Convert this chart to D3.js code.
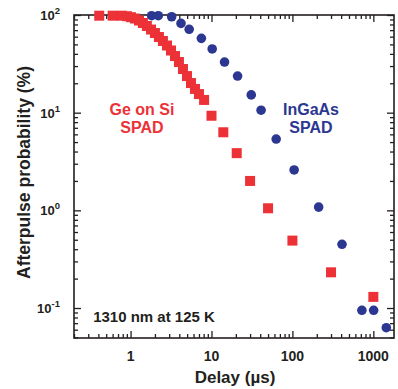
<!DOCTYPE html>
<html>
<head>
<meta charset="utf-8">
<script src="https://cdn.jsdelivr.net/npm/d3@7"></script>
<style>
  html, body { margin: 0; padding: 0; background: #fff; }
  svg { display: block; font-family: "Liberation Sans", Arial, Helvetica, sans-serif; }
</style>
</head>
<body>
<svg id="chart" width="398" height="389"></svg>
<script>
// ---- data ----
const geDelay = [0.41, 0.60, 0.78, 0.90, 1.01, 1.13, 1.27, 1.42, 1.59, 1.79, 2.00, 2.24, 2.51, 2.82, 3.16, 3.54, 3.96, 4.44, 4.98, 5.58, 6.25, 7.0, 8.1, 10, 14, 20.5, 30, 50, 100, 300, 1000];
const geProb  = [98.4, 98.4, 98.4, 97.2, 95.0, 92.1, 87.8, 82.8, 77.2, 71.0, 65.4, 59.5, 54.2, 48.7, 43.3, 38.0, 33.0, 28.0, 23.7, 20.1, 17.5, 15.5, 13.5, 9.3, 6.3, 3.85, 2.0, 1.05, 0.49, 0.232, 0.13];
const ingaasDelay = [1.82, 2.2, 3.22, 4.2, 5.3, 7.5, 10.2, 14.5, 21, 31, 41, 63, 105, 211, 410, 722, 1009, 1446];
const ingaasProb  = [98.4, 98.4, 96, 82, 71.4, 57.7, 44.9, 33, 23.7, 15.2, 10.6, 5.37, 2.59, 1.08, 0.449, 0.0948, 0.0948, 0.0629];
const xTicks = [1, 10, 100, 1000];
const xTickLabels = ["1", "10", "100", "1000"];
const yTicks = [0.1, 1, 10, 100];
const yTickExponents = ["-1", "0", "1", "2"];

// ---- layout ----
const pL = 74, pR = 394, pT = 15, pB = 338;
const RED = "#ec3237", BLUE = "#2b3791", INK = "#231f20";

const svg = d3.select("#chart");
const x = d3.scaleLog().domain([0.2, 1800]).range([pL, pR]);
const y = d3.scaleLog().domain([Math.pow(10, -1.307), 100]).range([pB, pT]);

function minorTicks(scale) {
  const [a, b] = scale.domain();
  const out = [];
  for (let e = Math.floor(Math.log10(a)); e <= Math.ceil(Math.log10(b)); e++) {
    for (let m = 2; m <= 9; m++) {
      const v = m * Math.pow(10, e);
      if (v >= a && v <= b) out.push(v);
    }
  }
  return out;
}

const axes = svg.append("g").attr("stroke-width", 1.3);
function drawAxis(gen, tx, ty, values, size) {
  const g = axes.append("g").attr("transform", `translate(${tx},${ty})`)
    .call(gen.tickValues(values).tickSize(size).tickSizeOuter(0).tickFormat(""));
  g.select(".domain").remove();
  g.selectAll("line").attr("stroke", INK).attr("stroke-width", 1.3);
}
// bottom / top
drawAxis(d3.axisBottom(x), 0, pB, xTicks, -7);
drawAxis(d3.axisBottom(x), 0, pB, minorTicks(x), -4);
drawAxis(d3.axisTop(x), 0, pT, xTicks, -7);
drawAxis(d3.axisTop(x), 0, pT, minorTicks(x), -4);
// left / right
drawAxis(d3.axisLeft(y), pL, 0, yTicks, -7);
drawAxis(d3.axisLeft(y), pL, 0, minorTicks(y), -4);
drawAxis(d3.axisRight(y), pR, 0, yTicks, -7);
drawAxis(d3.axisRight(y), pR, 0, minorTicks(y), -4);

// frame
svg.append("rect").attr("x", pL).attr("y", pT)
  .attr("width", pR - pL).attr("height", pB - pT)
  .attr("fill", "none").attr("stroke", INK).attr("stroke-width", 1.6);

// x tick labels
svg.append("g").selectAll("text").data(xTicks).join("text")
  .attr("x", d => x(d)).attr("y", 361)
  .attr("text-anchor", "middle").attr("font-size", 14).attr("font-weight", "bold")
  .attr("fill", INK)
  .text((d, i) => xTickLabels[i]);

// y tick labels (10^n)
const yl = svg.append("g").selectAll("text").data(yTicks).join("text")
  .attr("x", 60).attr("y", d => y(d) + 5)
  .attr("text-anchor", "end").attr("font-size", 13).attr("font-weight", "bold")
  .attr("fill", INK);
yl.append("tspan").text("10");
yl.append("tspan").attr("dy", -6).attr("font-size", 9.5).text((d, i) => yTickExponents[i]);

// axis titles
svg.append("text").attr("x", (pL + pR) / 2 + 1).attr("y", 383)
  .attr("text-anchor", "middle").attr("font-size", 17).attr("font-weight", "bold")
  .attr("fill", INK).text("Delay (µs)");
svg.append("text")
  .attr("transform", `translate(30,${(pT + pB) / 2 - 4}) rotate(-90)`)
  .attr("text-anchor", "middle").attr("font-size", 17.5).attr("font-weight", "bold")
  .attr("fill", INK).text("Afterpulse probability (%)");

// series: Ge on Si squares
const sq = 10;
svg.append("g").selectAll("rect").data(geDelay.map((d, i) => [d, geProb[i]])).join("rect")
  .attr("x", d => x(d[0]) - sq / 2).attr("y", d => y(d[1]) - sq / 2)
  .attr("width", sq).attr("height", sq).attr("fill", RED);

// series: InGaAs circles
svg.append("g").selectAll("circle").data(ingaasDelay.map((d, i) => [d, ingaasProb[i]])).join("circle")
  .attr("cx", d => x(d[0])).attr("cy", d => y(d[1])).attr("r", 4.8).attr("fill", BLUE);

// annotations
function label(lines, cx, y0, color, size) {
  const t = svg.append("text").attr("text-anchor", "middle").attr("font-size", size)
    .attr("font-weight", "bold").attr("fill", color);
  lines.forEach((s, i) => t.append("tspan").attr("x", cx).attr("y", y0 + i * 18).text(s));
}
label(["Ge on Si", "SPAD"], 142, 115, RED, 16);
label(["InGaAs", "SPAD"], 311, 115, BLUE, 16);
label(["1310 nm at 125 K"], 154, 322, INK, 15);
</script>
</body>
</html>
